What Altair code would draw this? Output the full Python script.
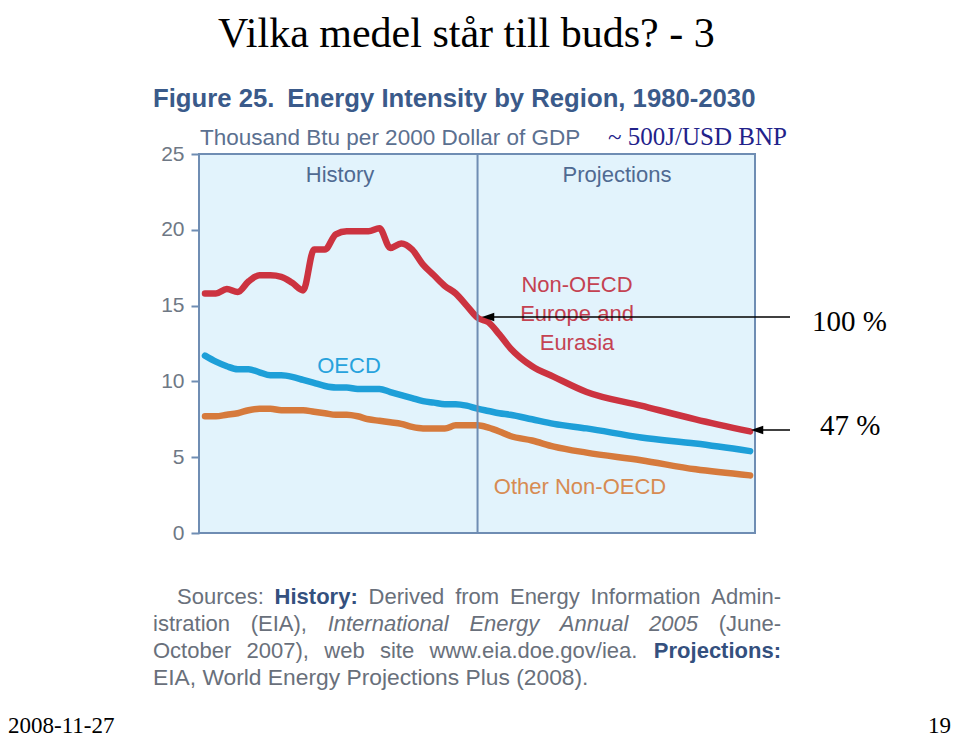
import altair as alt
import pandas as pd

# ---------------- data ----------------
series = ["Non-OECD Europe and Eurasia", "OECD", "Other Non-OECD"]
years_hist = list(range(1980, 2006))
years_proj = [2006, 2007, 2008, 2010, 2012, 2015, 2020, 2025, 2030]

red_hist = [15.8, 15.8, 16.1, 15.9, 16.6, 17.0, 17.0, 16.9, 16.5, 16.0, 18.7, 18.7, 19.7,
            19.9, 19.9, 19.9, 20.1, 18.8, 19.1, 18.7, 17.7, 17.0, 16.3, 15.8, 15.0, 14.2]
red_proj = [13.9, 13.1, 12.2, 11.0, 10.3, 9.3, 8.4, 7.5, 6.7]

oecd_hist = [11.7, 11.3, 11.0, 10.8, 10.8, 10.6, 10.4, 10.4, 10.3, 10.1, 9.9, 9.7, 9.6,
             9.6, 9.5, 9.5, 9.5, 9.3, 9.1, 8.9, 8.7, 8.6, 8.5, 8.5, 8.4, 8.2]
oecd_proj = [8.05, 7.9, 7.8, 7.5, 7.2, 6.9, 6.3, 5.9, 5.4]

other_hist = [7.7, 7.7, 7.8, 7.9, 8.1, 8.2, 8.2, 8.1, 8.1, 8.1, 8.0, 7.9, 7.8,
              7.8, 7.7, 7.5, 7.4, 7.3, 7.2, 7.0, 6.9, 6.9, 6.9, 7.1, 7.1, 7.1]
other_proj = [6.95, 6.7, 6.4, 6.1, 5.7, 5.3, 4.8, 4.2, 3.8]

x_ticks = [1980, 1995, 2005, 2015, 2030]
y_ticks = [0, 5, 10, 15, 20, 25]
divider_year = [2005]

rows = []
for name, h, p in zip(series, [red_hist, oecd_hist, other_hist], [red_proj, oecd_proj, other_proj]):
    for yr, v in zip(years_hist + years_proj, h + p):
        rows.append({"year": yr, "value": v, "series": name})
df = pd.DataFrame(rows)

# ---------------- styling ----------------
SANS = "Liberation Sans"
SERIF = "Liberation Serif"
FRAME = "#6f8db3"
BG = "#e2f3fc"
TICKLAB = "#6e7885"
W, H = 556, 379
X0 = 199  # page x of the plot's left edge (used to convert page positions)

xscale = alt.Scale(domain=[1979.45, 2030.45], nice=False, zero=False)
yscale = alt.Scale(domain=[0, 25], nice=False)

lines = alt.Chart(df).mark_line(
    strokeWidth=6.5, interpolate="monotone", strokeJoin="round", strokeCap="round"
).encode(
    x=alt.X("year:Q", scale=xscale,
            axis=alt.Axis(values=x_ticks, format="d", title=None, grid=False, domain=False,
                          ticks=True, tickSize=0, labelFontSize=21, labelFont=SANS,
                          labelColor=TICKLAB, labelPadding=17, labelFlush=False,
                          labelOverlap=False)),
    y=alt.Y("value:Q", scale=yscale,
            axis=alt.Axis(values=y_ticks, title=None, grid=False, domain=False,
                          tickSize=8, tickColor=FRAME, tickWidth=2, labelFontSize=21,
                          labelFont=SANS, labelColor=TICKLAB, labelPadding=7,
                          labelFlush=False, labelOverlap=False)),
    color=alt.Color("series:N", scale=alt.Scale(domain=series,
                                                range=["#cc3340", "#1e9fd8", "#d67a3c"]),
                    legend=None),
    order=alt.Order("year:Q"),
)

divider = alt.Chart(pd.DataFrame({"year": divider_year})).mark_rule(
    color=FRAME, strokeWidth=2
).encode(x=alt.X("year:Q", scale=xscale, axis=None))

ONE = pd.DataFrame({"k": [0]})


def txt(text, x, y, size, color, font=SANS, weight="normal", style="normal",
        align="left", baseline="alphabetic"):
    return alt.Chart(ONE).mark_text(
        text=text, fontSize=size, color=color, font=font, fontWeight=weight,
        fontStyle=style, align=align, baseline=baseline
    ).encode(x=alt.value(x), y=alt.value(y))


def arrow(x_tail, x_tip, y):
    shaft = alt.Chart(ONE).mark_rule(color="black", strokeWidth=1.3).encode(
        x=alt.value(x_tail), x2=alt.value(x_tip + 6), y=alt.value(y))
    head = alt.Chart(ONE).mark_point(
        shape="M0,0 L2,-0.7 L2,0.7 Z", filled=True, color="black", opacity=1, size=150,
        strokeWidth=0
    ).encode(x=alt.value(x_tip), y=alt.value(y))
    return [shaft, head]


layers = [lines, divider]

# slide texts
layers.append(txt("Vilka medel står till buds? - 3", 19, -107, 42, "black", font=SERIF))
layers.append(txt("2008-11-27", -191, 579, 23, "black", font=SERIF))
layers.append(txt("19", 752, 579, 23, "black", font=SERIF, align="right"))

# figure title texts
layers.append(txt("Figure 25.\u2002Energy Intensity by Region, 1980-2030", -46, -47, 25.7,
                  "#3a5a8a", weight="bold"))
layers.append(txt("Thousand Btu per 2000 Dollar of GDP", 1, -9, 22.5, "#5b7090"))
layers.append(txt("~ 500J/USD BNP", 409, -9, 25, "#22228a", font=SERIF))

# in-plot labels
layers.append(txt("History", 141, 21, 22, "#4f6a92", align="center", baseline="middle"))
layers.append(txt("Projections", 418, 21, 22, "#4f6a92", align="center", baseline="middle"))
layers.append(txt("OECD", 150, 212, 22, "#27a2dc", align="center", baseline="middle"))
for t, yy in [("Non-OECD", 131), ("Europe and", 160), ("Eurasia", 189)]:
    layers.append(txt(t, 378, yy, 22, "#c44252", align="center", baseline="middle"))
layers.append(txt("Other Non-OECD", 381, 333, 22, "#d78b52", align="center", baseline="middle"))

# arrows and percentages
layers += arrow(591, 283, 163)
layers += arrow(591, 552, 276)
layers.append(txt("100 %", 613, 177, 29, "black", font=SERIF))
layers.append(txt("47 %", 621, 281, 29, "black", font=SERIF))

# sources paragraph: justified lines (word gaps spread evenly between both margins)
REG, BLD = "#69707b", "#34507e"
SRC_SIZE = 22
REG_W = {' ': 278, 'S': 667, 'o': 556, 'u': 556, 'r': 333, 'c': 500, 'e': 556, 's': 500,
         ':': 278, 'H': 722, 'i': 222, 't': 278, 'y': 500, 'D': 722, 'v': 500, 'd': 556,
         'f': 278, 'm': 833, 'E': 667, 'n': 556, 'g': 556, 'I': 278, 'a': 556, 'A': 667,
         '-': 333, '(': 333, ')': 333, ',': 278, 'l': 222, 'J': 500, 'W': 944, 'P': 667,
         'j': 222, 'b': 556, 'w': 722, '.': 278, '/': 278, 'O': 778, 'h': 556, 'p': 556}
BOLD_W = {'H': 722, 'i': 278, 's': 556, 't': 333, 'o': 611, 'r': 389, 'y': 556, ':': 333,
          'P': 667, 'j': 278, 'e': 556, 'c': 556, 'n': 611}


def width(word, wt):
    table = BOLD_W if wt == "bold" else REG_W
    return sum(table.get(ch, 556) for ch in word) * SRC_SIZE / 1000.0


LEFT_IND, LEFT, RIGHT = 177, 153, 781
src_lines = [
    (450, LEFT_IND, [("Sources:", "normal", "normal"), ("History:", "bold", "normal"),
                     ("Derived", "normal", "normal"), ("from", "normal", "normal"),
                     ("Energy", "normal", "normal"), ("Information", "normal", "normal"),
                     ("Admin-", "normal", "normal")]),
    (477, LEFT, [("istration", "normal", "normal"), ("(EIA),", "normal", "normal"),
                 ("International", "normal", "italic"), ("Energy", "normal", "italic"),
                 ("Annual", "normal", "italic"), ("2005", "normal", "italic"),
                 ("(June-", "normal", "normal")]),
    (504, LEFT, [("October", "normal", "normal"), ("2007),", "normal", "normal"),
                 ("web", "normal", "normal"), ("site", "normal", "normal"),
                 ("www.eia.doe.gov/iea.", "normal", "normal"),
                 ("Projections:", "bold", "normal")]),
]
for py, x_start, items in src_lines:
    total = sum(width(t, wt) for t, wt, _ in items)
    gap = (RIGHT - x_start - total) / (len(items) - 1)
    cur = x_start
    for i, (t, wt, st) in enumerate(items):
        col = BLD if wt == "bold" else REG
        if i == len(items) - 1:
            layers.append(txt(t, RIGHT - X0, py, SRC_SIZE, col, weight=wt, style=st,
                              align="right"))
        else:
            layers.append(txt(t, cur - X0, py, SRC_SIZE, col, weight=wt, style=st))
        cur += width(t, wt) + gap
layers.append(txt("EIA, World Energy Projections Plus (2008).", LEFT - X0, 531, 22.8, REG))

chart = alt.layer(*layers).properties(
    width=W, height=H,
    padding={"left": 191, "top": 146, "right": 197, "bottom": 205},
    autosize=alt.AutoSizeParams(type="none"),
    background="white",
).configure_view(fill=BG, stroke=FRAME, strokeWidth=2)

chart.save("out.html", embed_options={"renderer": "svg", "actions": False})
